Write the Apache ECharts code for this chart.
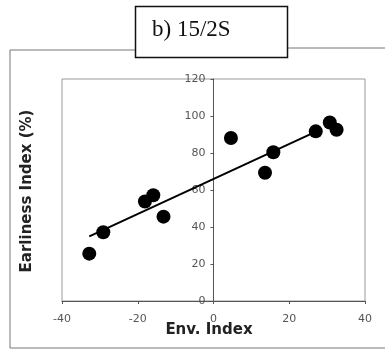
<!DOCTYPE html>
<html><head><meta charset="utf-8">
<script src="https://cdn.jsdelivr.net/npm/echarts@6/dist/echarts.min.js"></script>
<style>html,body{margin:0;padding:0;background:#fff}#c{width:385px;height:350px}</style>
</head><body><div id="c"></div>
<script>
const envIndex = [-32.8, -29.1, -18.1, -15.9, -13.2, 4.6, 13.6, 15.8, 27.0, 30.7, 32.5];
const earliness = [25.6, 37.2, 53.8, 57.2, 45.6, 88.1, 69.3, 80.4, 91.7, 96.5, 92.6];
const trendX = [-32.8, 27.2];
const trendY = [34.9, 91.7];
const xTicks = [-40, -20, 0, 20, 40];
const yTicks = [0, 20, 40, 60, 80, 100, 120];
const titleText = 'b) 15/2S';
const xTitle = 'Env. Index';
const yTitle = 'Earliness Index (%)';

const chart = echarts.init(document.getElementById('c'), null, {renderer: 'canvas'});
const lab = {color: '#555', fontFamily: 'DejaVu Sans', fontSize: 11};
chart.setOption({
  animation: false,
  grid: {left: 62, top: 79, width: 303, height: 222, show: true, borderColor: '#999', borderWidth: 1, backgroundColor: 'transparent'},
  xAxis: {type: 'value', min: xTicks[0], max: xTicks[xTicks.length-1], interval: 20,
    axisLine: {onZero: false, lineStyle: {color: '#555', width: 1}},
    axisTick: {show: true, inside: false, length: 3, lineStyle: {color: '#555'}},
    axisLabel: Object.assign({margin: 13}, lab),
    splitLine: {show: false}},
  yAxis: {type: 'value', min: yTicks[0], max: yTicks[yTicks.length-1], interval: 20,
    offset: -151.5,
    axisLine: {onZero: false, lineStyle: {color: '#555', width: 1}},
    axisTick: {show: true, inside: false, length: 3, lineStyle: {color: '#555'}},
    axisLabel: Object.assign({margin: 8}, lab),
    splitLine: {show: false}},
  series: [
    {type: 'line', data: trendX.map((x, i) => [x, trendY[i]]), symbol: 'none',
     lineStyle: {color: '#000', width: 2}, z: 2},
    {type: 'scatter', data: envIndex.map((x, i) => [x, earliness[i]]), symbol: 'circle', symbolSize: 14,
     itemStyle: {color: '#000', opacity: 1}, z: 3}
  ],
  graphic: [
    {type: 'polyline', shape: {points: [[135, 50], [10, 50], [10, 348], [385, 348]]}, style: {stroke: '#777', lineWidth: 1, fill: null}},
    {type: 'line', shape: {x1: 287, y1: 48, x2: 385, y2: 48}, style: {stroke: '#777', lineWidth: 1}},
    {type: 'rect', shape: {x: 135.5, y: 6.5, width: 152, height: 51}, style: {stroke: '#111', lineWidth: 1.5, fill: '#fff'}},
    {type: 'text', left: 152, top: 18, style: {text: titleText, font: '23px "Liberation Serif"', fill: '#111'}},
    {type: 'text', x: 209, y: 330, style: {text: xTitle, font: 'bold 15px "DejaVu Sans"', fill: '#222', align: 'center', verticalAlign: 'middle'}},
    {type: 'text', x: 27, y: 191, rotation: Math.PI / 2, style: {text: yTitle, font: 'bold 15px "DejaVu Sans"', fill: '#222', align: 'center', verticalAlign: 'middle'}}
  ]
});
</script></body></html>
